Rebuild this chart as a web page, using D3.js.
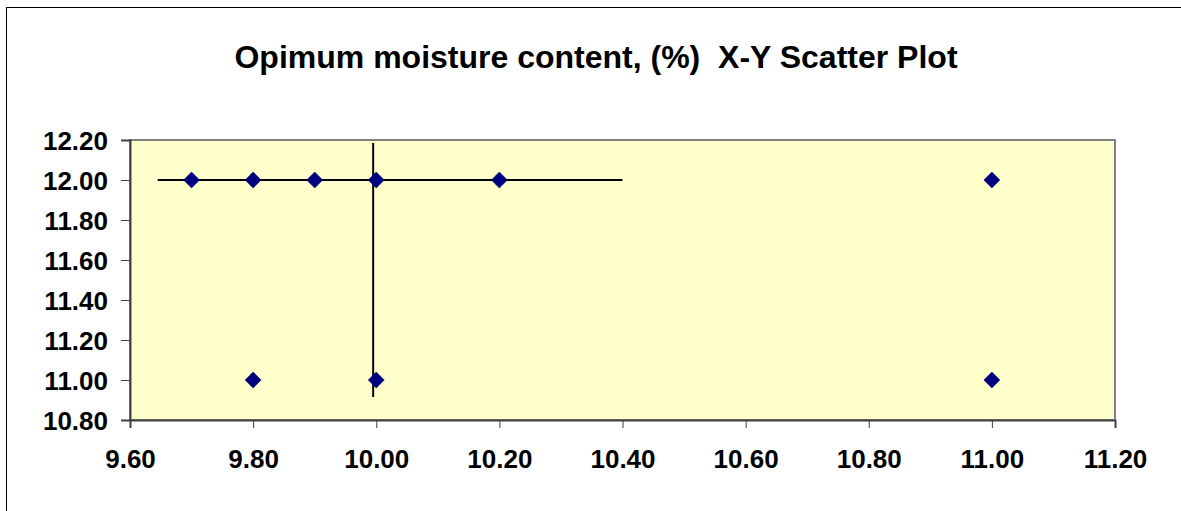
<!DOCTYPE html>
<html>
<head>
<meta charset="utf-8">
<script src="https://cdn.jsdelivr.net/npm/d3@7"></script>
<style>
  body { margin: 0; background: #fff; }
  text { font-family: Arial, "Liberation Sans", sans-serif; font-weight: bold; fill: #000; }
</style>
</head>
<body>
<script>
const title = "Opimum moisture content, (%)  X-Y Scatter Plot";

// scatter points
const xValues = [9.7, 9.8, 9.9, 10.0, 10.2, 11.0, 9.8, 10.0, 11.0];
const yValues = [12.0, 12.0, 12.0, 12.0, 12.0, 12.0, 11.0, 11.0, 11.0];

// the two straight lines drawn across the plot
const hLine = [[9.645, 12.0], [10.40, 12.0]];
const vLine = [[9.995, 12.185], [9.995, 10.915]];

const xTicks = [9.6, 9.8, 10.0, 10.2, 10.4, 10.6, 10.8, 11.0, 11.2];
const yTicks = [10.8, 11.0, 11.2, 11.4, 11.6, 11.8, 12.0, 12.2];

var margin = {top: 140, right: 66, bottom: 91, left: 130}
  , width = 1181 - margin.left - margin.right
  , height = 511 - margin.top - margin.bottom;

var svg = d3.select('body')
    .append('svg')
    .attr('width', 1181)
    .attr('height', 511);

// outer chart border
svg.append('rect')
    .attr('x', 6.5).attr('y', 7.5)
    .attr('width', 1200).attr('height', 520)
    .attr('fill', 'none')
    .attr('stroke', '#000')
    .attr('stroke-width', 1);

svg.append('text')
    .attr('x', 596)
    .attr('y', 68)
    .attr('text-anchor', 'middle')
    .style('font-size', '32px')
    .style('white-space', 'pre')
    .text(title);

var x = d3.scaleLinear().domain([9.6, 11.2]).range([0, width]);
var y = d3.scaleLinear().domain([10.8, 12.2]).range([height, 0]);

var main = svg.append('g')
    .attr('transform', 'translate(' + margin.left + ',' + margin.top + ')');

main.append('rect')
    .attr('width', width)
    .attr('height', height)
    .attr('fill', '#ffffcc')
    .attr('stroke', '#808080')
    .attr('stroke-width', 2);

var xAxis = d3.axisBottom(x)
    .tickValues(xTicks)
    .tickFormat(d3.format('.2f'))
    .tickSize(8)
    .tickPadding(22);

main.append('g')
    .attr('transform', 'translate(0,' + height + ')')
    .call(xAxis)
    .call(g => g.select('.domain').attr('stroke', '#404040').attr('stroke-width', 2))
    .call(g => g.selectAll('.tick line').attr('stroke', '#404040'))
    .selectAll('text')
    .style('font-size', '26px');

var yAxis = d3.axisLeft(y)
    .tickValues(yTicks)
    .tickFormat(d3.format('.2f'))
    .tickSize(9)
    .tickPadding(13);

main.append('g')
    .call(yAxis)
    .call(g => g.select('.domain').attr('stroke', '#404040').attr('stroke-width', 2))
    .call(g => g.selectAll('.tick line').attr('stroke', '#404040'))
    .selectAll('text')
    .attr('dy', '0.36em')
    .style('font-size', '26px');

var line = d3.line()
    .x(function (d) { return x(d[0]); })
    .y(function (d) { return y(d[1]); });

[hLine, vLine].forEach(function (seg) {
  main.append('path')
    .datum(seg)
    .attr('fill', 'none')
    .attr('stroke', '#000')
    .attr('stroke-width', 2)
    .attr('d', line);
});

var pts = xValues.map(function (v, i) { return [v, yValues[i]]; });

main.selectAll('.pt')
    .data(pts)
    .enter().append('path')
    .attr('class', 'pt')
    .attr('d', d3.symbol().type(d3.symbolSquare).size(128))
    .attr('transform', function (d) {
      return 'translate(' + x(d[0]) + ',' + y(d[1]) + ') rotate(45)';
    })
    .attr('fill', '#000080')
    .attr('stroke', '#000060')
    .attr('stroke-width', 0.5);
</script>
</body>
</html>
